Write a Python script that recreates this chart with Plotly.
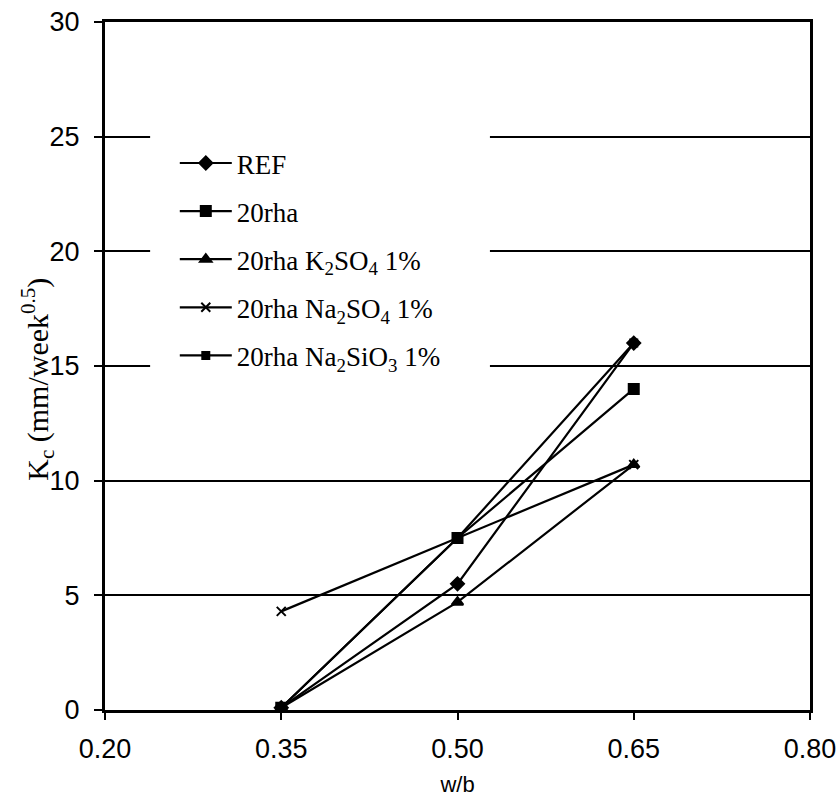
import plotly.graph_objects as go

wb = [0.35, 0.50, 0.65]
ref = [0.1, 5.5, 16.0]
rha20 = [0.1, 7.5, 14.0]
k2so4 = [0.1, 4.7, 10.7]
na2so4 = [4.3, 7.5, 10.7]
na2sio3 = [0.1, 7.5, 16.0]

names = ["REF", "20rha", "20rha K<sub>2</sub>SO<sub>4</sub> 1%",
         "20rha Na<sub>2</sub>SO<sub>4</sub> 1%", "20rha Na<sub>2</sub>SiO<sub>3</sub> 1%"]
series = [ref, rha20, k2so4, na2so4, na2sio3]
symbols = ["diamond", "square", "triangle-up", "x-thin", "square"]
sizes = [10, 10, 10, 9, 7]

x_ticks = [0.20, 0.35, 0.50, 0.65, 0.80]
x_ticklabels = ["0.20", "0.35", "0.50", "0.65", "0.80"]
y_ticks = [0, 5, 10, 15, 20, 25, 30]

SERIF = "Liberation Serif"
SANS = "Liberation Sans"

fig = go.Figure()
for i, (n, s, sym, sz) in enumerate(zip(names, series, symbols, sizes)):
    fig.add_trace(go.Scatter(
        x=wb, y=s, name=n, mode="lines+markers", legendgroup=f"g{i}",
        line=dict(color="black", width=2.2),
        marker=dict(symbol=sym, size=sz, color="black",
                    line=dict(color="black", width=2)),
    ))

# white panel behind the legend (hides the grid lines there)
fig.add_shape(type="rect", xref="paper", yref="paper",
              x0=0.064, x1=0.546, y0=0.392, y1=0.85,
              fillcolor="white", line=dict(width=0), layer="above")

fig.add_annotation(text="K<sub>c</sub> (mm/week<sup>0.5</sup>)",
                   xref="paper", yref="paper", x=-0.095, y=0.48,
                   xanchor="center", yanchor="middle",
                   textangle=-90, showarrow=False,
                   font=dict(family=SERIF, size=30, color="black"))

fig.update_layout(
    width=837, height=805,
    margin=dict(l=105, r=27, t=22, b=95, autoexpand=False),
    paper_bgcolor="white", plot_bgcolor="white",
    font=dict(family=SERIF, size=20, color="black"),
    showlegend=True,
    legend=dict(x=0.099, y=0.83, xanchor="left", yanchor="top",
                bgcolor="rgba(0,0,0,0)", font=dict(family=SERIF, size=27),
                tracegroupgap=10, itemwidth=52),
    xaxis=dict(range=[0.20, 0.80], tickvals=x_ticks, ticktext=x_ticklabels,
               showgrid=False, zeroline=False, showline=True, mirror=True,
               automargin=False,
               linecolor="black", linewidth=3, ticks="outside", ticklen=7,
               tickwidth=2, tickcolor="black", ticklabelstandoff=6,
               tickfont=dict(family=SANS, size=27),
               title=dict(text="w/b", font=dict(family=SANS, size=22), standoff=14)),
    yaxis=dict(range=[0, 30], tickvals=y_ticks,
               showgrid=True, gridcolor="black", gridwidth=2, zeroline=False,
               showline=True, mirror=True, automargin=False,
               linecolor="black", linewidth=3,
               ticks="outside", ticklen=8, tickwidth=2, tickcolor="black",
               ticklabelstandoff=9,
               tickfont=dict(family=SANS, size=27)),
)

fig.write_html("out.html")
